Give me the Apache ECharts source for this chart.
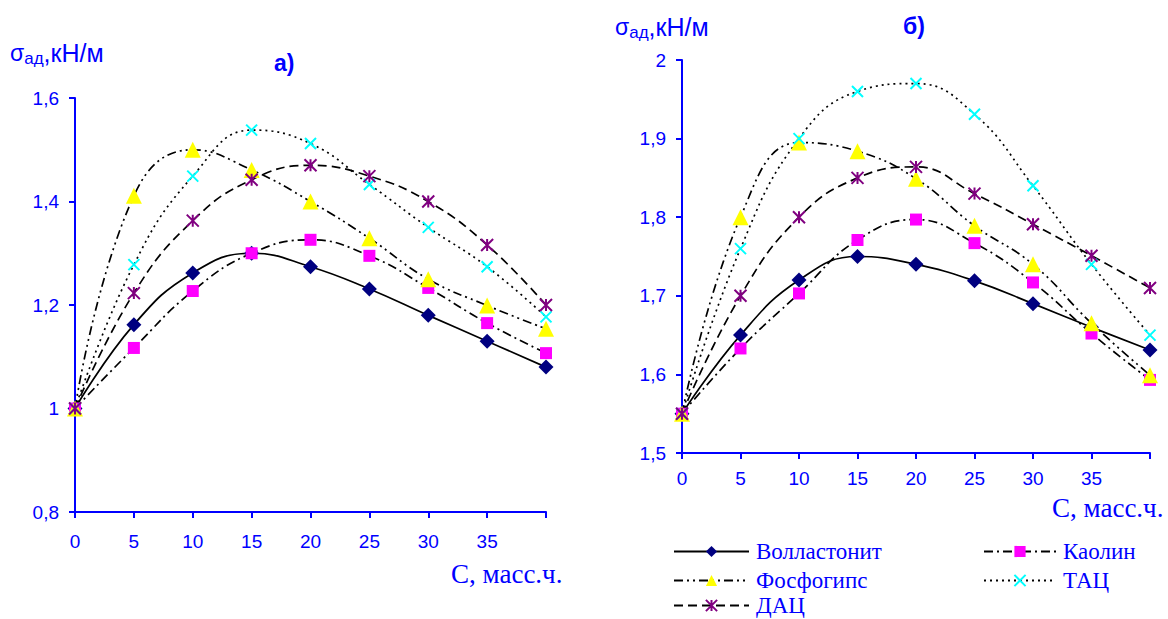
<!DOCTYPE html>
<html>
<head>
<meta charset="utf-8">
<script src="https://cdn.jsdelivr.net/npm/echarts@6/dist/echarts.min.js"></script>
<style>
  html, body { margin: 0; padding: 0; background: #fff; }
  #chart { width: 1168px; height: 619px; }
</style>
</head>
<body>
<div id="chart"></div>
<script>
// концентрация наполнителя, масс.ч.
const conc = [0, 5, 10, 15, 20, 25, 30, 35, 40];
const xTicks = ['0', '5', '10', '15', '20', '25', '30', '35'];

// а) 
const wollA = [1.0, 1.162, 1.262, 1.30, 1.274, 1.231, 1.18, 1.13, 1.08];
const kaolA = [1.0, 1.117, 1.227, 1.30, 1.326, 1.295, 1.233, 1.165, 1.107];
const phosA = [1.0, 1.411, 1.50, 1.461, 1.40, 1.329, 1.25, 1.199, 1.154];
const tacA = [1.0, 1.278, 1.449, 1.538, 1.512, 1.433, 1.35, 1.274, 1.177];
const dacA = [1.0, 1.223, 1.363, 1.442, 1.47, 1.449, 1.40, 1.316, 1.20];

// б)
const wollB = [1.55, 1.65, 1.72, 1.75, 1.74, 1.719, 1.69, 1.66, 1.631];
const kaolB = [1.55, 1.633, 1.703, 1.771, 1.797, 1.767, 1.717, 1.652, 1.593];
const phosB = [1.55, 1.80, 1.895, 1.884, 1.849, 1.789, 1.74, 1.665, 1.599];
const tacB = [1.55, 1.76, 1.90, 1.96, 1.97, 1.931, 1.84, 1.74, 1.65];
const dacB = [1.55, 1.70, 1.80, 1.85, 1.864, 1.83, 1.791, 1.751, 1.71];

const names = ['Волластонит', 'Каолин', 'Фосфогипс', 'ТАЦ', 'ДАЦ'];

const blue = '#0000ff';
const sans = 'Liberation Sans';
const serif = 'Liberation Serif';

// стиль каждой кривой: линия + маркер
const styles = {
    'Волластонит': { symbol: 'diamond', size: 15, color: '#000080', dash: 'solid', border: 0 },
    'Каолин': { symbol: 'rect', size: 12, color: '#ff00ff', dash: [9, 4, 2, 4], border: 0 },
    'Фосфогипс': { symbol: 'triangle', size: 16, color: '#ffff00', dash: [9, 4, 2, 4, 2, 4], border: 0 },
    'ТАЦ': { symbol: 'path://M0,0L10,10M10,0L0,10', size: 11, color: '#00ffff', dash: [2, 4], border: 2 },
    'ДАЦ': { symbol: 'path://M0,0L10,10M10,0L0,10M5,0L5,10', size: 12, color: '#800080', dash: [9, 5], border: 2 }
};

const pairs = (ys) => conc.map((x, i) => [x, ys[i]]);

const makeSeries = (name, ys, idx) => {
    const s = styles[name];
    return {
        name: name,
        type: 'line',
        xAxisIndex: idx,
        yAxisIndex: idx,
        smooth: 0.45,
        symbol: s.symbol,
        symbolSize: s.size,
        showAllSymbol: true,
        lineStyle: { color: '#000', width: 1.7, type: s.dash },
        itemStyle: { color: s.color, borderColor: s.color, borderWidth: s.border },
        emphasis: { disabled: true },
        data: pairs(ys)
    };
};

const xAxisBase = (idx, margin) => ({
    type: 'value',
    gridIndex: idx,
    min: 0,
    max: 40,
    interval: 5,
    splitLine: { show: false },
    axisLine: { lineStyle: { color: blue, width: 2 } },
    axisTick: { length: 6, lineStyle: { color: blue, width: 2 } },
    axisLabel: {
        color: blue, fontFamily: sans, fontSize: 19, margin: margin,
        formatter: (v) => (v < 40 ? xTicks[v / 5] : '')
    }
});

const yAxisBase = (idx, min, max, interval) => ({
    type: 'value',
    gridIndex: idx,
    min: min,
    max: max,
    interval: interval,
    splitLine: { show: false },
    axisLine: { show: true, lineStyle: { color: blue, width: 2 } },
    axisTick: { show: true, length: 6, lineStyle: { color: blue, width: 2 } },
    axisLabel: {
        color: blue, fontFamily: sans, fontSize: 19, margin: 16,
        formatter: (v) => String(+v.toFixed(2)).replace('.', ',')
    }
});

const sigma = (x, y) => ({
    type: 'text', left: x, top: y,
    style: {
        text: '{s|σ}{sub|ад}{n|,кН/м}',
        rich: {
            s: { fontFamily: sans, fontSize: 23, fill: blue },
            sub: { fontFamily: sans, fontSize: 17, fill: blue, padding: [12, 0, 0, 0] },
            n: { fontFamily: sans, fontSize: 25, fill: blue }
        }
    }
});

// по одной легенде на строку, чтобы разложить в две колонки
const legendItem = (name, left, top, w) => ({
    orient: 'horizontal',
    left: left,
    top: top,
    padding: 0,
    data: [name],
    selectedMode: false,
    itemWidth: w,
    itemHeight: 14,
    itemGap: 7,
    textStyle: { color: blue, fontFamily: serif, fontSize: 23, lineHeight: 21, padding: [0, 0, 0, 2] }
});

const chart = echarts.init(document.getElementById('chart'), null, { renderer: 'svg' });

chart.setOption({
    animation: false,
    grid: [
        { left: 75, top: 98, width: 471, height: 414 },
        { left: 682, top: 60, width: 468, height: 393 }
    ],
    xAxis: [xAxisBase(0, 20), xAxisBase(1, 16)],
    yAxis: [yAxisBase(0, 0.8, 1.6, 0.2), yAxisBase(1, 1.5, 2.0, 0.1)],
    legend: [
        legendItem('Волластонит', 673, 540, 75),
        legendItem('Фосфогипс', 673, 569, 75),
        legendItem('ДАЦ', 673, 594, 75),
        legendItem('Каолин', 983, 540, 72),
        legendItem('ТАЦ', 983, 569, 72)
    ],
    graphic: [
        sigma(10, 40),
        sigma(615, 14),
        { type: 'text', left: 274, top: 51, style: { text: 'а)', fontFamily: sans, fontWeight: 'bold', fontSize: 23, fill: blue } },
        { type: 'text', left: 903, top: 14, style: { text: 'б)', fontFamily: sans, fontWeight: 'bold', fontSize: 23, fill: blue } },
        { type: 'text', left: 451, top: 560, style: { text: 'С, масс.ч.', fontFamily: serif, fontSize: 27, lineHeight: 22, fill: blue } },
        { type: 'text', left: 1052, top: 494, style: { text: 'С, масс.ч.', fontFamily: serif, fontSize: 27, lineHeight: 22, fill: blue } }
    ],
    series: [
        makeSeries(names[0], wollA, 0),
        makeSeries(names[1], kaolA, 0),
        makeSeries(names[2], phosA, 0),
        makeSeries(names[3], tacA, 0),
        makeSeries(names[4], dacA, 0),
        makeSeries(names[0], wollB, 1),
        makeSeries(names[1], kaolB, 1),
        makeSeries(names[2], phosB, 1),
        makeSeries(names[3], tacB, 1),
        makeSeries(names[4], dacB, 1)
    ]
});
</script>
</body>
</html>
